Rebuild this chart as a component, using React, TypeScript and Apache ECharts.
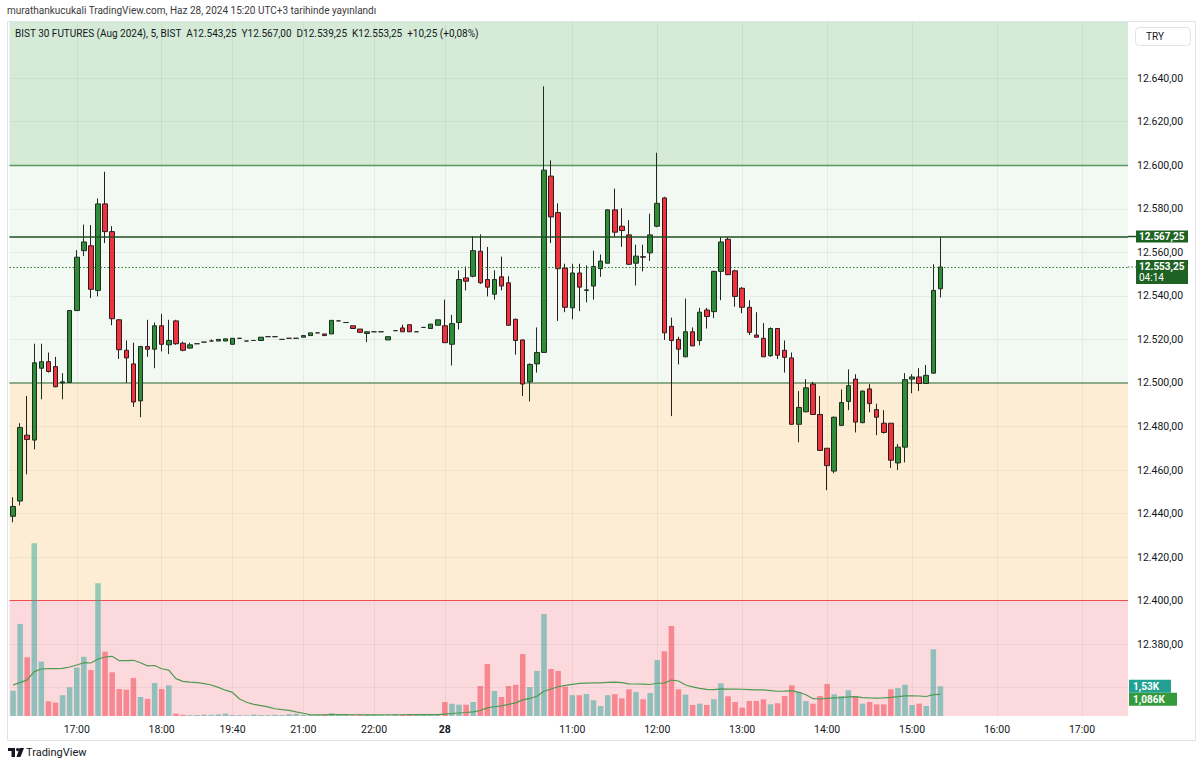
import React, { useEffect, useRef } from "react";
import * as echarts from "echarts";

// ---------- DATA ----------
const headerText = "murathankucukali TradingView.com, Haz 28, 2024 15:20 UTC+3 tarihinde yayınlandı";
const legendText = "BIST 30 FUTURES (Aug 2024), 5, BIST  A12.543,25  Y12.567,00  D12.539,25  K12.553,25  +10,25 (+0,08%)";
const currencyLabel = "TRY";

// 27 June day session (visible part) and evening session
const day1Times = ["16:15","16:20","16:25","16:30","16:35","16:40","16:45","16:50","16:55","17:00","17:05","17:10","17:15","17:20","17:25","17:30","17:35","17:40","17:45","17:50","17:55","18:00","18:05"];
const day1EveningTimes = ["19:00","19:05","19:10","19:15","19:20","19:25","19:30","19:35","19:40","19:45","19:50","20:00","20:10","20:20","20:30","20:40","20:45","20:55","21:00","21:05","21:10","21:20","21:25","21:35","21:40","21:45","21:50","21:55","22:00","22:05","22:10","22:15","22:20","22:30","22:35","22:40","22:50","22:55"];
// 28 June: 09:30 .. 17:30 (bars up to 15:20, the rest is empty space)
const day2First = "09:30";
const day2Last = "17:30";

// x tick labels [category, text]
const timeTicks: [string, string][] = [
  ["27 17:00", "17:00"], ["27 18:00", "18:00"], ["27 19:40", "19:40"], ["27 21:00", "21:00"], ["27 22:00", "22:00"],
  ["28 09:30", "28"], ["28 11:00", "11:00"], ["28 12:00", "12:00"], ["28 13:00", "13:00"], ["28 14:00", "14:00"],
  ["28 15:00", "15:00"], ["28 16:00", "16:00"], ["28 17:00", "17:00"],
];

// price tick labels (12.360 is hidden behind the volume labels)
const priceTicks = [12380, 12400, 12420, 12440, 12460, 12480, 12500, 12520, 12540, 12560, 12580, 12600, 12620, 12640];
const priceGridTicks = [12360, 12380, 12400, 12420, 12440, 12460, 12480, 12500, 12520, 12540, 12560, 12580, 12600, 12620, 12640];

// OHLC [open, high, low, close]
const day1Candles: number[][] = [
  [12438.75, 12447.5, 12436, 12443.25],
  [12445.75, 12481.5, 12443.75, 12479.5],
  [12476, 12494, 12458, 12474],
  [12473.75, 12518, 12469.5, 12509.25],
  [12506.75, 12518, 12492.5, 12509.75],
  [12509.75, 12514, 12504.75, 12505.25],
  [12507.5, 12512, 12498, 12498.25],
  [12500, 12504.5, 12492.5, 12500.5],
  [12500.25, 12533.5, 12500, 12533.25],
  [12533.25, 12561, 12533, 12557.75],
  [12560.75, 12572.75, 12558.25, 12564.75],
  [12563, 12572.5, 12539, 12543],
  [12542.5, 12584.75, 12539.75, 12582.25],
  [12582.25, 12597, 12564.25, 12569.5],
  [12569.5, 12572, 12526.5, 12529.5],
  [12529, 12529.25, 12511, 12515.25],
  [12515, 12519.5, 12500, 12511.5],
  [12508.75, 12518.5, 12489, 12491.25],
  [12491.75, 12517, 12484.25, 12516.75],
  [12516.75, 12529, 12512, 12515.5],
  [12515.5, 12527.75, 12506.75, 12526.25],
  [12526.25, 12531.75, 12514.5, 12517.75],
  [12517.5, 12529, 12513.25, 12519.5],
  [12528.5, 12529, 12517.5, 12518],
  [12518.25, 12519, 12514.5, 12515],
  [12516, 12518.5, 12515.75, 12517.5],
  [12518, 12518, 12518, 12518],
  [12518.75, 12518.75, 12518.75, 12518.75],
  [12519.25, 12520, 12519.25, 12519.25],
  [12519.25, 12520, 12519.25, 12520],
  [12519.25, 12520.25, 12519.25, 12520.25],
  [12517.75, 12520.5, 12517.75, 12520.5],
  [12520.5, 12520.5, 12520.5, 12520.5],
  [12519.25, 12519.25, 12519.25, 12519.25],
  [12519.5, 12519.5, 12519.5, 12519.5],
  [12519.5, 12521, 12519.5, 12521],
  [12521.25, 12521.25, 12521.25, 12521.25],
  [12521.25, 12521.25, 12521.25, 12521.25],
  [12520, 12520, 12520, 12520],
  [12520.5, 12520.5, 12520.5, 12520.5],
  [12520.5, 12520.5, 12520.5, 12520.5],
  [12521, 12521.75, 12521, 12521.75],
  [12521.75, 12523, 12521.75, 12523],
  [12523, 12523, 12523, 12523],
  [12522.5, 12522.5, 12521.75, 12521.75],
  [12522.5, 12528.75, 12522.5, 12528.75],
  [12528.5, 12528.5, 12528.5, 12528.5],
  [12527.75, 12527.75, 12527.75, 12527.75],
  [12526.25, 12526.25, 12525, 12525],
  [12524.75, 12524.75, 12523.25, 12523.25],
  [12522.75, 12523.5, 12518.75, 12523.5],
  [12523.5, 12523.5, 12523.5, 12523.5],
  [12523.5, 12523.5, 12523.5, 12523.5],
  [12519.75, 12521.25, 12519.75, 12521.25],
  [12524, 12524, 12524, 12524],
  [12525.25, 12526.75, 12523.5, 12523.5],
  [12526.75, 12526.75, 12523.5, 12523.5],
  [12523.5, 12523.5, 12523.5, 12523.5],
  [12525.5, 12525.5, 12525.5, 12525.5],
  [12525, 12527, 12525, 12527],
  [12526.5, 12529, 12526.5, 12529],
];

const day2Candles: number[][] = [
  [12526.25, 12538.25, 12518.5, 12518.5],
  [12517.75, 12531.25, 12508, 12527.25],
  [12527.75, 12551.75, 12524.5, 12547.5],
  [12548.25, 12553.5, 12542.5, 12546.75],
  [12549, 12567.5, 12548.5, 12560.75],
  [12560.5, 12568.25, 12545.5, 12546],
  [12547.5, 12562.5, 12539.75, 12544],
  [12540.75, 12551.75, 12538.25, 12547.5],
  [12548.75, 12558, 12542.5, 12544.5],
  [12546, 12549, 12526.25, 12526.5],
  [12529.25, 12529.5, 12513, 12519.5],
  [12519.75, 12520, 12494, 12499.5],
  [12500.5, 12509, 12491.5, 12508.5],
  [12508.75, 12525.5, 12504.75, 12514],
  [12514, 12636.25, 12514, 12597.75],
  [12595, 12602.25, 12564.25, 12576.25],
  [12578.25, 12582.5, 12528.5, 12552.5],
  [12552.75, 12554.75, 12532.5, 12534.75],
  [12534.5, 12554.75, 12529.25, 12550.5],
  [12550.5, 12554.75, 12533, 12544],
  [12542.5, 12554, 12537, 12542.75],
  [12544.5, 12560.75, 12538.25, 12553.5],
  [12552.5, 12559, 12548.75, 12556],
  [12555, 12579.75, 12555, 12579.5],
  [12579.5, 12589.25, 12567, 12569.25],
  [12572, 12580.25, 12562.5, 12570],
  [12568, 12574.75, 12554.25, 12554.5],
  [12555, 12563.5, 12544.75, 12558.25],
  [12558, 12563.5, 12551.25, 12557.75],
  [12559.75, 12577.75, 12556, 12568],
  [12572, 12605.75, 12571.5, 12582.5],
  [12585, 12585.5, 12519.75, 12523],
  [12526, 12530, 12484.75, 12519.5],
  [12520, 12521.25, 12508.5, 12515.5],
  [12512, 12538.75, 12512, 12523.5],
  [12523.5, 12525.5, 12517, 12517],
  [12519.5, 12534.5, 12517.25, 12532.5],
  [12533.5, 12534.5, 12525, 12530.5],
  [12532.75, 12551.5, 12529.75, 12551.25],
  [12551.25, 12567, 12538, 12564.75],
  [12566, 12567, 12549.5, 12549.75],
  [12551.5, 12552, 12535, 12539.75],
  [12543.5, 12544, 12532, 12534.75],
  [12534.75, 12538, 12522, 12523.25],
  [12522, 12532.5, 12521, 12521],
  [12520.5, 12527.5, 12512, 12512],
  [12512.5, 12525.5, 12512, 12525],
  [12525, 12525.25, 12511, 12512.75],
  [12515, 12519.5, 12504.75, 12511.75],
  [12511.5, 12514, 12480.75, 12481],
  [12481, 12496.25, 12472.75, 12488.75],
  [12486.75, 12501.75, 12486.5, 12497.75],
  [12499.5, 12500.5, 12485.5, 12485.5],
  [12485.5, 12494, 12469, 12469],
  [12470, 12470, 12450.75, 12462],
  [12459.5, 12484.5, 12458.5, 12484.25],
  [12480.5, 12497, 12480.5, 12491],
  [12491.5, 12506.25, 12487.5, 12498.75],
  [12501.75, 12504, 12477.25, 12482],
  [12481.75, 12496.5, 12481.5, 12496.25],
  [12497.25, 12499.5, 12486.5, 12490.5],
  [12487.75, 12490.5, 12476, 12484.25],
  [12481.5, 12487.5, 12476.75, 12477.25],
  [12481.5, 12481.5, 12461, 12464.5],
  [12463.25, 12472, 12460, 12470.5],
  [12470.5, 12504.5, 12463.5, 12501.5],
  [12501.75, 12504, 12495.25, 12502.75],
  [12502.75, 12506.75, 12496.25, 12499.75],
  [12499.75, 12508.25, 12499.5, 12503.5],
  [12504.5, 12554.5, 12504.25, 12542.5],
  [12543.25, 12567, 12539.25, 12553.25],
];

// volumes (contracts)
const priorVolumes = [2370, 240, 350, 100, 450, 690, 650, 140, 430, 690, 2680, 2710, 1250, 1530, 5920, 1350, 1550, 3450, 4170];
const day1Volumes = [
  1300, 4740, 3020, 8890, 2800, 760, 690, 1070, 1480, 2490, 3050, 2370, 6830, 3310, 2250, 1390, 1350, 1960, 980, 880, 1700, 1390, 1580, 120,
  60, 40, 50, 70, 60, 80, 120, 50, 40, 40, 70, 50, 40, 60, 50, 90, 110, 60, 50, 40, 70, 140, 50, 60, 40, 70, 80, 50, 60, 40, 90, 60, 50, 70, 60, 80, 100,
];
const day2Volumes = [
  720, 630, 580, 580, 720, 1545, 2680, 1290, 980, 1545,
  1610, 3190, 1490, 2320, 5250, 2420, 2320, 1510, 1070, 1070,
  1130, 810, 515, 1070, 1120, 910, 1375, 1240, 860, 1185,
  2880, 3330, 4635, 1375, 1100, 565, 635, 565, 860, 1685,
  1015, 720, 430, 770, 770, 860, 600, 655, 1030, 1580,
  1235, 770, 635, 1030, 1650, 1120, 1030, 1325, 1030, 635,
  720, 600, 600, 1375, 1440, 1610, 565, 635, 515, 3435,
  1530,
];
const volumeMaLength = 20;

// levels and labels
const zoneTop = 12600;
const zoneMid = 12500;
const zoneLow = 12400;
const highLine = 12567.25;
const lastPrice = 12553.25;
const countdown = "04:14";
const lastVolumeLabel = "1,53K";
const volumeMaLabel = "1,086K";

// ---------- LAYOUT / STYLE ----------
const FONT = "Roboto, 'Liberation Sans', sans-serif";
const priceMin = 12347;
const priceMax = 12665.8;
const volumeAxisMax = 35740;
const UP = "#2f8d3a";
const DOWN = "#f0323f";
const UP_BORDER = "#1d2e1d";
const DOWN_BORDER = "#2e1c1d";
const VOL_UP = "rgba(38,166,154,0.5)";
const VOL_DOWN = "rgba(242,54,69,0.5)";
const GRID_LINE = "rgba(42,46,57,0.06)";

function fmtPrice(v: number): string {
  const [i, d] = v.toFixed(2).split(".");
  return i.replace(/\B(?=(\d{3})+(?!\d))/g, ".") + "," + d;
}

function buildCategories(): string[] {
  const cats: string[] = [];
  day1Times.forEach((t) => cats.push("27 " + t));
  day1EveningTimes.forEach((t) => cats.push("27 " + t));
  const toMin = (s: string) => parseInt(s.slice(0, 2)) * 60 + parseInt(s.slice(3));
  for (let m = toMin(day2First); m <= toMin(day2Last); m += 5) {
    const hh = String(Math.floor(m / 60)).padStart(2, "0");
    const mm = String(m % 60).padStart(2, "0");
    cats.push("28 " + hh + ":" + mm);
  }
  return cats;
}

export default function App() {
  const ref = useRef<HTMLDivElement>(null);

  useEffect(() => {
    const el = ref.current;
    if (!el) return;
    const chart = echarts.init(el, undefined, { renderer: "svg" });

    const categories = buildCategories();
    const tickMap = new Map<string, string>(timeTicks);
    const ohlc = day1Candles.concat(day2Candles);
    const volumes = day1Volumes.concat(day2Volumes);
    const candleData = ohlc.map((c) => [c[0], c[3], c[2], c[1]]);
    const volData = volumes.map((v, i) => ({
      value: v,
      itemStyle: { color: ohlc[i][3] >= ohlc[i][0] ? VOL_UP : VOL_DOWN },
    }));
    const allVol = priorVolumes.concat(volumes);
    const maData = volumes.map((_, i) => {
      const end = i + priorVolumes.length;
      let s = 0;
      for (let k = end - volumeMaLength + 1; k <= end; k++) s += allVol[k];
      return +(s / volumeMaLength).toFixed(1);
    });

    const gridLineData: any[] = [];
    priceGridTicks.forEach((p) => gridLineData.push({ yAxis: p, lineStyle: { color: GRID_LINE, width: 1, type: "solid" } }));
    timeTicks.forEach(([c]) => gridLineData.push({ xAxis: c, lineStyle: { color: GRID_LINE, width: 1, type: "solid" } }));
    gridLineData.push({ yAxis: zoneTop, lineStyle: { color: "#5a995c", width: 1.3, type: "solid" } });
    gridLineData.push({ yAxis: zoneMid, lineStyle: { color: "#8daa86", width: 2, type: "solid" } });
    gridLineData.push({ yAxis: zoneLow, lineStyle: { color: "#f04c52", width: 1.2, type: "solid" } });

    chart.setOption({
      animation: false,
      backgroundColor: "#ffffff",
      textStyle: { fontFamily: FONT },
      grid: { left: 9.5, right: 72, top: 22, bottom: 52 },
      xAxis: {
        type: "category",
        data: categories,
        boundaryGap: true,
        axisLine: { show: false },
        axisTick: { show: false },
        splitLine: { show: false },
        axisLabel: {
          interval: (_i: number, v: string) => tickMap.has(v),
          formatter: (v: string) => {
            const t = tickMap.get(v) || "";
            return t === "28" ? "{b|28}" : t;
          },
          rich: { b: { fontWeight: "bold", fontSize: 10.5, color: "#131722", fontFamily: FONT } },
          color: "#131722",
          fontSize: 10.5,
          fontFamily: FONT,
          margin: 8,
        },
      },
      yAxis: [
        {
          type: "value",
          position: "right",
          min: priceMin,
          max: priceMax,
          axisLine: { show: false },
          axisTick: { show: false },
          splitLine: { show: false },
          axisLabel: {
            customValues: priceTicks,
            formatter: (v: number) => fmtPrice(v),
            color: "#131722",
            fontSize: 10.5,
            fontFamily: FONT,
            margin: 9,
            align: "left",
          },
        },
        { type: "value", min: 0, max: volumeAxisMax, show: false },
      ],
      series: [
        {
          name: "zones",
          type: "line",
          data: [],
          silent: true,
          markArea: {
            silent: true,
            z: 1,
            data: [
              [{ yAxis: zoneTop, itemStyle: { color: "#d5ebd7" } }, { yAxis: priceMax }],
              [{ yAxis: zoneMid, itemStyle: { color: "#f2f8f2" } }, { yAxis: zoneTop }],
              [{ yAxis: zoneLow, itemStyle: { color: "#feedd5" } }, { yAxis: zoneMid }],
              [{ yAxis: priceMin, itemStyle: { color: "#fcd9dc" } }, { yAxis: zoneLow }],
            ],
          },
          markLine: {
            silent: true,
            z: 2,
            symbol: ["none", "none"],
            label: { show: false },
            emphasis: { disabled: true },
            data: gridLineData,
          },
        },
        {
          name: "volume",
          type: "bar",
          yAxisIndex: 1,
          data: volData,
          barWidth: 5.5,
          z: 6,
          silent: true,
        },
        {
          name: "volumeMA",
          type: "line",
          yAxisIndex: 1,
          data: maData,
          showSymbol: false,
          symbol: "none",
          lineStyle: { color: "#4f9a52", width: 1.2 },
          z: 7,
          silent: true,
        },
        {
          name: "price",
          type: "candlestick",
          data: candleData,
          barWidth: 5,
          z: 10,
          silent: true,
          itemStyle: {
            color: UP,
            color0: DOWN,
            borderColor: UP_BORDER,
            borderColor0: DOWN_BORDER,
            borderColorDoji: "#2a2a2a",
            borderWidth: 1,
          },
        },
        {
          name: "levels",
          type: "line",
          data: [],
          silent: true,
          markLine: {
            silent: true,
            z: 12,
            symbol: ["none", "none"],
            label: { show: false },
            emphasis: { disabled: true },
            data: [
              { yAxis: highLine, lineStyle: { color: "#1f4f22", width: 1.5, type: "solid" } },
              { yAxis: lastPrice, lineStyle: { color: "#2e7d32", width: 1, type: [1.5, 2] } },
            ],
          },
        },
      ],
    });

    const yP = (v: number) => chart.convertToPixel({ yAxisIndex: 0 }, v) as number;
    const yV = (v: number) => chart.convertToPixel({ yAxisIndex: 1 }, v) as number;
    const yHigh = yP(highLine);
    const yLast = yP(lastPrice);
    const yVol = yV(volumes[volumes.length - 1]);
    const boxX = 1136;
    const boxColor = "#1e6224";

    chart.setOption({
      graphic: [
        { type: "text", left: 7, top: 5, z: 100, style: { text: headerText, fontSize: 10, fill: "#3a3a3a", fontFamily: FONT } },
        { type: "text", left: 15, top: 28, z: 100, style: { text: legendText, fontSize: 10, fill: "#131722", fontFamily: FONT } },
        { type: "rect", z: 99, shape: { x: 7.5, y: 21.5, width: 1188, height: 719 }, style: { fill: "none", stroke: "#e0e3eb", lineWidth: 1 } },
        { type: "rect", z: 100, shape: { x: 1135.5, y: 27.5, width: 55, height: 18, r: 4 }, style: { fill: "#ffffff", stroke: "#e0e3eb", lineWidth: 1 } },
        { type: "text", z: 101, x: 1146, y: 36.5, style: { text: currencyLabel, fontSize: 10, fill: "#131722", fontFamily: FONT, verticalAlign: "middle" } },
        { type: "line", z: 100, shape: { x1: 1128, y1: yHigh, x2: boxX, y2: yHigh }, style: { stroke: "#1f4f22", lineWidth: 1.5 } },
        { type: "line", z: 100, shape: { x1: 1128, y1: yLast, x2: boxX, y2: yLast }, style: { stroke: "#2e7d32", lineWidth: 1, lineDash: [1.5, 2] } },
        { type: "rect", z: 100, shape: { x: boxX, y: yHigh - 6, width: 52, height: 12 }, style: { fill: boxColor } },
        { type: "text", z: 101, x: boxX + 3, y: yHigh, style: { text: fmtPrice(highLine), fontSize: 10, fontWeight: "bold", fill: "#ffffff", fontFamily: FONT, verticalAlign: "middle" } },
        { type: "rect", z: 100, shape: { x: boxX, y: yLast - 7, width: 52, height: 24 }, style: { fill: boxColor } },
        { type: "text", z: 101, x: boxX + 3, y: yLast - 1, style: { text: fmtPrice(lastPrice), fontSize: 10, fontWeight: "bold", fill: "#ffffff", fontFamily: FONT, verticalAlign: "middle" } },
        { type: "text", z: 101, x: boxX + 3, y: yLast + 10.5, style: { text: countdown, fontSize: 10, fill: "#ffffff", fontFamily: FONT, verticalAlign: "middle" } },
        { type: "rect", z: 100, shape: { x: 1129, y: yVol - 6.5, width: 42, height: 13 }, style: { fill: "#22a193" } },
        { type: "text", z: 101, x: 1133, y: yVol, style: { text: lastVolumeLabel, fontSize: 10, fontWeight: "bold", fill: "#ffffff", fontFamily: FONT, verticalAlign: "middle" } },
        { type: "rect", z: 100, shape: { x: 1129, y: yVol + 6.5, width: 48, height: 13 }, style: { fill: "#359a3e" } },
        { type: "text", z: 101, x: 1133, y: yVol + 13, style: { text: volumeMaLabel, fontSize: 10, fontWeight: "bold", fill: "#ffffff", fontFamily: FONT, verticalAlign: "middle" } },
        // TradingView logo
        { type: "rect", z: 100, shape: { x: 8, y: 748, width: 7, height: 3 }, style: { fill: "#131722" } },
        { type: "rect", z: 100, shape: { x: 11.5, y: 748, width: 3.5, height: 9 }, style: { fill: "#131722" } },
        { type: "circle", z: 100, shape: { cx: 17.6, cy: 749.6, r: 1.6 }, style: { fill: "#131722" } },
        { type: "polygon", z: 100, shape: { points: [[19.5, 748], [24, 748], [20.5, 757], [16.5, 757]] }, style: { fill: "#131722" } },
        { type: "text", z: 100, x: 26, y: 752.5, style: { text: "TradingView", fontSize: 11, fill: "#131722", fontFamily: FONT, verticalAlign: "middle" } },
      ],
    });

    return () => chart.dispose();
  }, []);

  return (
    <div
      ref={ref}
      style={{ position: "fixed", left: 0, top: 0, width: 1200, height: 768, background: "#ffffff" }}
    />
  );
}
